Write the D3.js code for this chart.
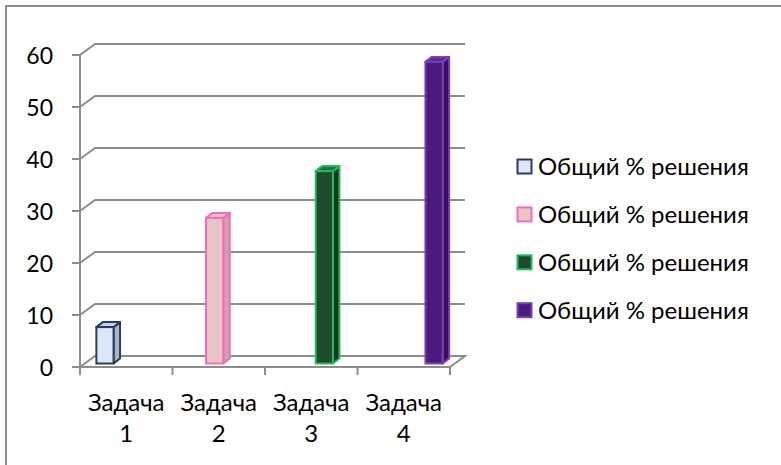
<!DOCTYPE html>
<html>
<head>
<meta charset="utf-8">
<script src="https://cdn.jsdelivr.net/npm/d3@7"></script>
<style>
  body { margin: 0; background: #fff; }
  text { font-family: Lato, "Noto Sans", sans-serif; fill: #000; }
</style>
</head>
<body>
<script>
// chart values
const categories = ["Задача 1", "Задача 2", "Задача 3", "Задача 4"]
const seriesNames = ["Общий % решения", "Общий % решения", "Общий % решения", "Общий % решения"]
// each series only has a value in its own category
const seriesValues = [7, 28, 37, 58]
const yTicks = [0, 10, 20, 30, 40, 50, 60]

const width = 781
const height = 465

// colours per series: front, side, top, outline
const palette = [
    {front: "#dbe7f6", side: "#a7b5c6", top: "#c4d3e6", stroke: "#2c3d5c"},
    {front: "#e7c4c5", side: "#cfa3a6", top: "#e9bdc9", stroke: "#ef6cc0"},
    {front: "#1f4a2d", side: "#143621", top: "#2d6a41", stroke: "#23b85c"},
    {front: "#4a1b7a", side: "#37115e", top: "#5d2b92", stroke: "#7a3fb8"},
]

const axisColor = "#8c8c8c"
const wallDx = 15, wallDy = -11   // depth of the floor / back wall
const barDx = 6.5, barDy = -5     // depth of a bar
const barShiftX = 4.5, barShiftY = -3.5  // bars sit a little behind the front edge

const svg = d3.select("body").append("svg")
    .attr("width", width)
    .attr("height", height)

svg.append("rect").attr("width", width).attr("height", height).attr("fill", "#fff")

// outer frame, cut off at right and bottom like the picture
svg.append("rect")
    .attr("x", 6).attr("y", 6)
    .attr("width", width + 20).attr("height", height + 20)
    .attr("fill", "none")
    .attr("stroke", axisColor)
    .attr("stroke-width", 2)

const x0 = d3.scaleBand().domain(categories).range([80, 450]).padding(0)
const x1 = d3.scaleBand().domain(d3.range(seriesNames.length))
    .range([0, x0.bandwidth()]).paddingInner(0).paddingOuter(0.69)
const y = d3.scaleLinear().domain([0, 60]).range([367, 55])

const xLeft = x0.range()[0], xRight = x0.range()[1]
const line = d3.line()

// floor
svg.append("path")
    .attr("d", line([[xLeft, y(0)], [xLeft + wallDx, y(0) + wallDy],
        [xRight + wallDx, y(0) + wallDy], [xRight, y(0)]]))
    .attr("fill", "none").attr("stroke", axisColor).attr("stroke-width", 2)

// gridlines on the back wall
svg.selectAll(".grid")
    .data(yTicks.filter(d => d > 0))
    .join("path")
    .attr("class", "grid")
    .attr("d", d => line([[xLeft, y(d)], [xLeft + wallDx, y(d) + wallDy], [xRight + wallDx, y(d) + wallDy]]))
    .attr("fill", "none").attr("stroke", axisColor).attr("stroke-width", 2)

// front axes
svg.append("line")
    .attr("x1", xLeft).attr("x2", xLeft)
    .attr("y1", y(60)).attr("y2", y(0) + 8)
    .attr("stroke", axisColor).attr("stroke-width", 2)
svg.append("line")
    .attr("x1", xLeft - 8).attr("x2", xRight)
    .attr("y1", y(0)).attr("y2", y(0))
    .attr("stroke", axisColor).attr("stroke-width", 2)

svg.selectAll(".ytick")
    .data(yTicks)
    .join("line")
    .attr("class", "ytick")
    .attr("x1", xLeft - 8).attr("x2", xLeft)
    .attr("y1", d => y(d)).attr("y2", d => y(d))
    .attr("stroke", axisColor).attr("stroke-width", 2)

const catEdges = categories.map(c => x0(c)).concat([xRight])
svg.selectAll(".xtick")
    .data(catEdges)
    .join("line")
    .attr("class", "xtick")
    .attr("x1", d => d).attr("x2", d => d)
    .attr("y1", y(0)).attr("y2", y(0) + 8)
    .attr("stroke", axisColor).attr("stroke-width", 2)

// y labels
svg.selectAll(".ylabel")
    .data(yTicks)
    .join("text")
    .attr("class", "ylabel")
    .attr("x", 53)
    .attr("y", d => y(d) + 9)
    .attr("text-anchor", "end")
    .style("font-size", "23px")
    .text(d => d)

// category labels on two lines
const catLabels = svg.selectAll(".xlabel")
    .data(categories)
    .join("text")
    .attr("class", "xlabel")
    .attr("text-anchor", "middle")
    .style("font-size", "24px")
catLabels.append("tspan")
    .attr("x", d => x0(d) + x0.bandwidth() / 2)
    .attr("y", 410.5)
    .text(d => d.split(" ")[0])
catLabels.append("tspan")
    .attr("x", d => x0(d) + x0.bandwidth() / 2)
    .attr("y", 441.5)
    .text(d => d.split(" ")[1])

// bars: series i lives in category i
const bars = seriesValues.map((v, i) => {
    const bx = x0(categories[i]) + x1(i) + barShiftX
    const w = x1.bandwidth()
    const top = y(v) + barShiftY
    const bottom = y(0) + barShiftY
    return {i: i, x: bx, w: w, top: top, bottom: bottom}
})

const barG = svg.selectAll(".bar")
    .data(bars)
    .join("g")
    .attr("class", "bar")

barG.append("path")
    .attr("d", d => line([[d.x + d.w, d.top], [d.x + d.w + barDx, d.top + barDy],
        [d.x + d.w + barDx, d.bottom + barDy], [d.x + d.w, d.bottom]]) + "Z")
    .attr("fill", d => palette[d.i].side)
    .attr("stroke", d => palette[d.i].stroke)
    .attr("stroke-width", 2)
    .attr("stroke-linejoin", "round")
barG.append("path")
    .attr("d", d => line([[d.x, d.top], [d.x + barDx, d.top + barDy],
        [d.x + d.w + barDx, d.top + barDy], [d.x + d.w, d.top]]) + "Z")
    .attr("fill", d => palette[d.i].top)
    .attr("stroke", d => palette[d.i].stroke)
    .attr("stroke-width", 2)
    .attr("stroke-linejoin", "round")
barG.append("rect")
    .attr("x", d => d.x)
    .attr("y", d => d.top)
    .attr("width", d => d.w)
    .attr("height", d => d.bottom - d.top)
    .attr("fill", d => palette[d.i].front)
    .attr("stroke", d => palette[d.i].stroke)
    .attr("stroke-width", 2)

// legend
const legend = svg.selectAll(".legend")
    .data(seriesNames)
    .join("g")
    .attr("class", "legend")
    .attr("transform", (d, i) => `translate(517, ${159 + i * 47.9})`)

legend.append("rect")
    .attr("width", 14).attr("height", 14)
    .attr("x", 0.5).attr("y", 0.5)
    .attr("fill", (d, i) => palette[i].front)
    .attr("stroke", (d, i) => palette[i].stroke)
    .attr("stroke-width", 2)

legend.append("text")
    .attr("x", 21)
    .attr("y", 16)
    .style("font-size", "24px")
    .text(d => d)
</script>
</body>
</html>
